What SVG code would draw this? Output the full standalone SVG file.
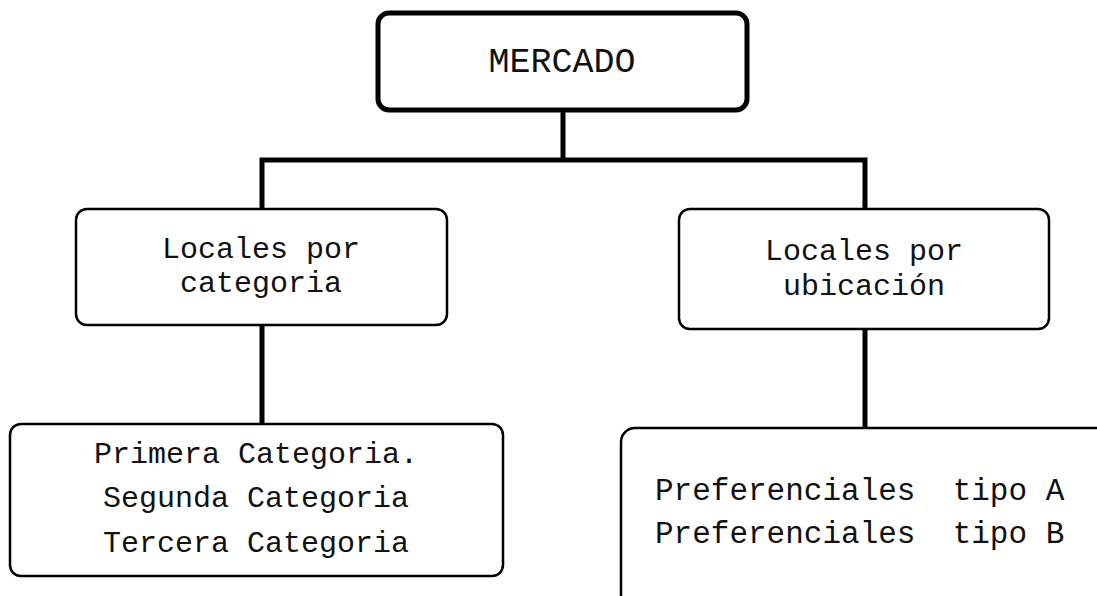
<svg xmlns="http://www.w3.org/2000/svg" width="1097" height="596" viewBox="0 0 1097 596">
<style>
.box{fill:#fff;stroke:#000;stroke-width:2.5}
.main{fill:#fff;stroke:#000;stroke-width:5}
.t{font-family:"Liberation Mono","Courier New",monospace;font-size:30px;fill:#111;text-anchor:middle}
.tl{font-family:"Liberation Mono","Courier New",monospace;font-size:31px;fill:#111;white-space:pre}
.big{font-size:35px}
.c{fill:none;stroke:#000;stroke-width:5}
</style>
<rect width="1097" height="596" fill="#fff"/>
<g id="connectors">
<path class="c" d="M563 110 V160 M262 160 H865 M262 157.5 V210 M865 157.5 V210 M262 325 V425 M865 329 V428"/>
</g>
<g id="mercado">
<rect class="main" x="378" y="13" width="369" height="97" rx="11"/>
<text class="t big" x="562" y="72">MERCADO</text>
</g>
<g id="categoria">
<rect class="box" x="76" y="209" width="371" height="116" rx="11"/>
<text class="t" x="261" y="258">Locales por</text>
<text class="t" x="261" y="292">categoria</text>
</g>
<g id="ubicacion">
<rect class="box" x="679" y="209" width="370" height="120" rx="11"/>
<text class="t" x="864" y="260">Locales por</text>
<text class="t" x="864" y="295">ubicación</text>
</g>
<g id="categorias">
<rect class="box" x="10" y="424" width="493" height="152" rx="11"/>
<text class="t" x="256" y="463">Primera Categoria.</text>
<text class="t" x="256" y="507">Segunda Categoria</text>
<text class="t" x="256" y="552">Tercera Categoria</text>
</g>
<g id="preferenciales">
<rect class="box" x="621" y="428" width="500" height="200" rx="14"/>
<text class="tl" x="655" y="500" xml:space="preserve">Preferenciales  tipo A</text>
<text class="tl" x="655" y="543" xml:space="preserve">Preferenciales  tipo B</text>
</g>
</svg>
